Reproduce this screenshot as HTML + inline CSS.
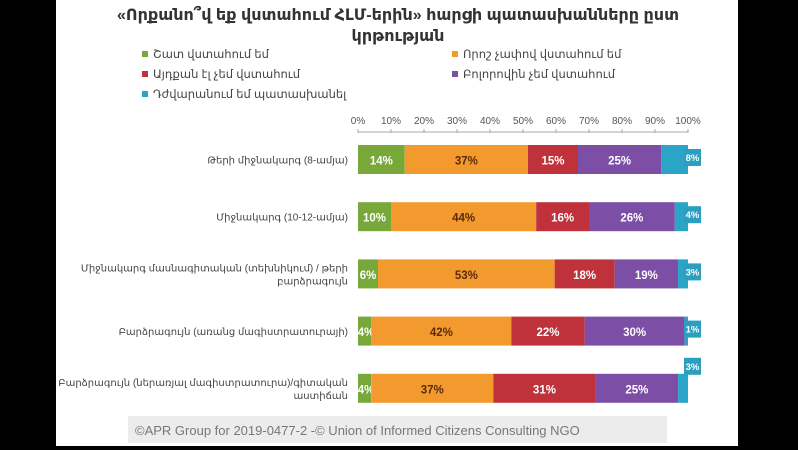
<!DOCTYPE html>
<html><head><meta charset="utf-8"><style>
body{margin:0;width:798px;height:450px;background:#000;overflow:hidden;font-family:"Liberation Sans","DejaVu Sans",sans-serif}
#slide{position:absolute;left:56px;top:0;width:682px;height:446px;background:#fff}
</style></head><body>
<div id="slide"></div>
<svg id="chart" width="798" height="450" style="position:absolute;left:0;top:0">
<text x="398" y="20" text-anchor="middle" font-size="16" font-weight="bold" fill="#333">«Որքանո՞վ եք վստահում ՀԼՄ-երին» հարցի պատասխանները ըստ</text>
<text x="398" y="41" text-anchor="middle" font-size="16" font-weight="bold" fill="#333">կրթության</text>
<rect x="128" y="416" width="539" height="27" fill="#ececec"/>
<text x="135" y="435" font-size="13" fill="#777">©APR Group for 2019-0477-2 -© Union of Informed Citizens Consulting  NGO</text>
<g id="legend"></g><g id="axis"></g><g id="bars"></g>
</svg>
<script>
const categories=["Թերի միջնակարգ (8-ամյա)","Միջնակարգ (10-12-ամյա)","Միջնակարգ մասնագիտական (տեխնիկում) / թերի|բարձրագույն","Բարձրագույն (առանց մագիստրատուրայի)","Բարձրագույն (ներառյալ մագիստրատուրա)/գիտական|աստիճան"];
const seriesNames=["Շատ վստահում եմ","Որոշ չափով վստահում եմ","Այդքան էլ չեմ վստահում","Բոլորովին չեմ վստահում","Դժվարանում եմ պատասխանել"];
const s1=[14,10,6,4,4];
const s2=[37,44,53,42,37];
const s3=[15,16,18,22,31];
const s4=[25,26,19,30,25];
const s5=[8,4,3,1,3];
const ticks=[0,10,20,30,40,50,60,70,80,90,100];
const colors=["#79a83a","#f39a2e","#c0323b","#7c4ea6","#2aa5c8"];
const txtCol=["#fff","#5a2a0a","#fff","#fff","#fff"];
const NS="http://www.w3.org/2000/svg";
function mk(t,a,p){const e=document.createElementNS(NS,t);for(const k in a)e.setAttribute(k,a[k]);p.appendChild(e);return e;}
const x0=358,x1=688;
const xs=v=>x0+(x1-x0)*v/100;
const yRow=i=>145+i*57.2;
const bh=29;
const ax=document.getElementById('axis');
const l=mk('line',{x1:x0,x2:x1,y1:132,y2:132,stroke:'#aaa'},ax);


ticks.forEach(t=>{
 const tk=mk('line',{x1:xs(t),x2:xs(t),y1:129,y2:133,stroke:'#aaa'},ax);
 
 
 const tl=mk('text',{x:xs(t),y:124,'text-anchor':'middle','font-size':10,fill:'#555'},ax);tl.textContent=t+'%';
 
 
});
const lg=document.getElementById('legend');
const lpos=[[142,58],[452,58],[142,78],[452,78],[142,98]];
seriesNames.forEach((n,i)=>{
 const r=mk('rect',{x:lpos[i][0],y:lpos[i][1]-7,width:6,height:6,fill:colors[i]},lg);
 
 
 const t=mk('text',{x:lpos[i][0]+11,y:lpos[i][1],'font-size':11.5,fill:'#444'},lg);t.textContent=n;
 
 
});
const bg=document.getElementById('bars');
const series=[s1,s2,s3,s4,s5];
categories.forEach((c,i)=>{
 const y=yRow(i);const lines=c.split('|');
 lines.forEach((ln,j)=>{
  const t=mk('text',{x:348,y:y+bh/2+4+(j-(lines.length-1)/2)*13,'text-anchor':'end','font-size':10,fill:'#444'},bg);t.textContent=ln;
  
  
 });
 const tot=series.reduce((a,s)=>a+s[i],0);
 let acc=0;
 series.forEach((s,k)=>{
  const v=s[i];const xa=xs(acc/tot*100),xb=xs((acc+v)/tot*100);acc+=v;
  const r=mk('rect',{x:xa,y:y,width:xb-xa,height:bh,fill:colors[k]},bg);
  
  
  let tx=(xa+xb)/2,ty=y+bh/2+5;
  if(k===4){
   const bx=x1-4,by=(i===4)?y-16:y+4;
   const b=mk('rect',{x:bx,y:by,width:17,height:17,fill:'#2a9fc0'},bg);
   
   
   tx=bx+8.5;ty=by+12;
  } else if(k===0){tx=Math.max(tx,xa+8);}
  const t=mk('text',{x:tx,y:ty,'text-anchor':'middle','font-size':k===4?9.5:11.5,'font-weight':'bold',fill:txtCol[k]},bg);t.textContent=v+'%';
  
  
 });
});
</script>
</body></html>
